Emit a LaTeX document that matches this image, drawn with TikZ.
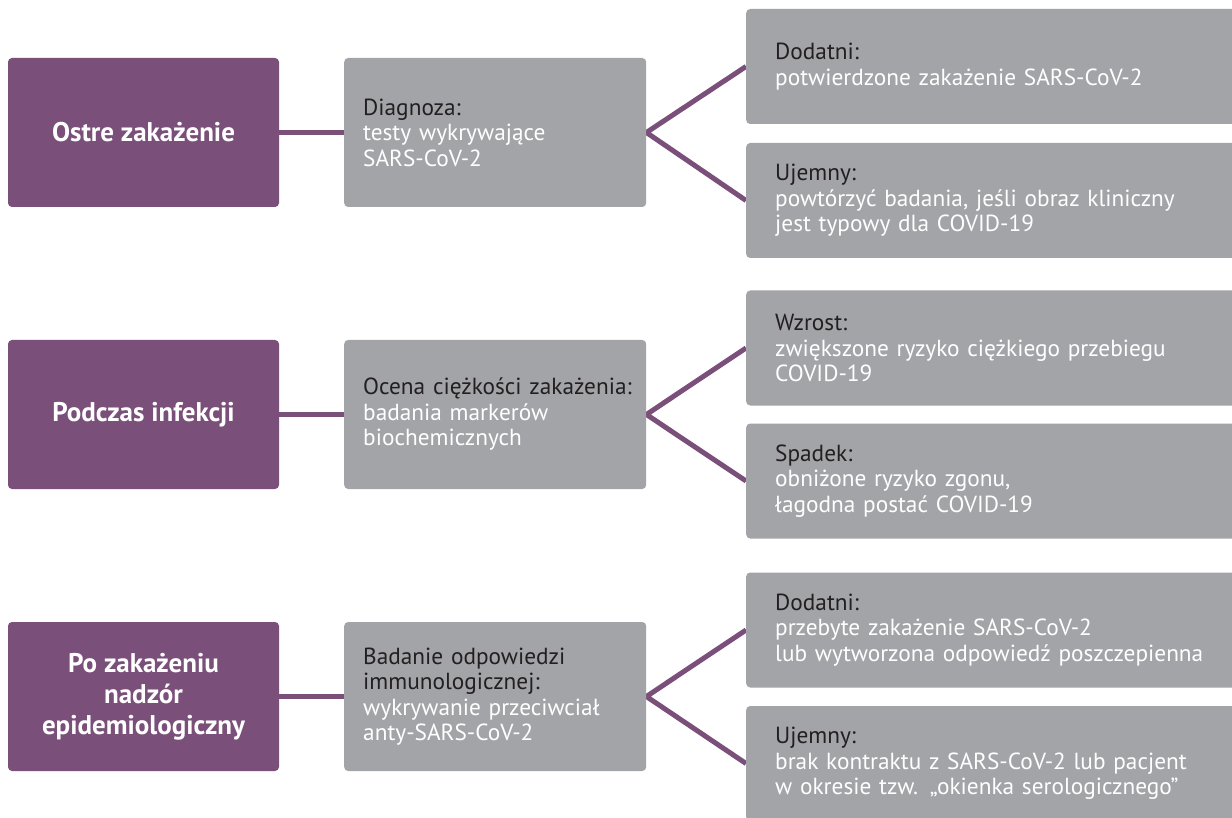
\documentclass[tikz,border=0pt]{standalone}
\usepackage{fontspec}
\setmainfont{PT Sans}
\usetikzlibrary{backgrounds}
\definecolor{purp}{HTML}{7A4F7A}
\definecolor{greyb}{HTML}{A3A4A8}
\definecolor{darktxt}{HTML}{231F20}
\tikzset{
  phase/.style={draw=none, fill=purp, rounded corners=4pt, minimum width=271pt, minimum height=149pt,
    text=white, align=center, font=\bfseries\fontsize{27}{31}\selectfont, inner sep=0pt},
  midbox/.style={draw=none, fill=greyb, rounded corners=4pt, minimum height=149pt, text width=264pt,
    inner xsep=19pt, inner ysep=0pt, align=left, text=white, font=\fontsize{23.3}{25.5}\selectfont},
  resbox/.style={draw=none, fill=greyb, rounded corners=4pt, minimum height=115pt, text width=480pt,
    inner xsep=29pt, inner ysep=0pt, align=left, text=white, font=\fontsize{23.3}{25.5}\selectfont},
  conn/.style={draw=purp, line width=5pt},
}
\newcommand{\hd}[1]{\textcolor{darktxt}{#1}}
\begin{document}
\begin{tikzpicture}[x=1pt,y=-1pt]
\useasboundingbox (0,0) rectangle (1232,818);
% row 1
\node[phase] (p1) at (143.5,132.5) {Ostre zakażenie};
\node[midbox, anchor=west] (m1) at (344,132.5) {\hd{Diagnoza:}\\testy wykrywające\\SARS-CoV-2};
\node[resbox, anchor=west] (r1a) at (746,66.5) {\hd{Dodatni:}\\potwierdzone zakażenie SARS-CoV-2};
\node[resbox, anchor=west] (r1b) at (746,200.5) {\hd{Ujemny:}\\powtórzyć badania, jeśli obraz kliniczny\\jest typowy dla COVID-19};
% row 2
\node[phase] (p2) at (143.5,414.5) {Podczas infekcji};
\node[midbox, anchor=west] (m2) at (344,414.5) {\hd{\mbox{Ocena ciężkości zakażenia:}}\\badania markerów\\biochemicznych};
\node[resbox, anchor=west] (r2a) at (746,348) {\hd{Wzrost:}\\zwiększone ryzyko ciężkiego przebiegu\\COVID-19};
\node[resbox, anchor=west] (r2b) at (746,481) {\hd{Spadek:}\\obniżone ryzyko zgonu,\\łagodna postać COVID-19};
% row 3
\node[phase] (p3) at (143.5,696.5) {Po zakażeniu\\nadzór\\epidemiologiczny};
\node[midbox, anchor=west] (m3) at (344,696.5) {\hd{Badanie odpowiedzi}\\\hd{immunologicznej:}\\wykrywanie przeciwciał\\anty-SARS-CoV-2};
\node[resbox, anchor=west] (r3a) at (746,630) {\hd{Dodatni:}\\przebyte zakażenie SARS-CoV-2\\lub wytworzona odpowiedź poszczepienna};
\node[resbox, anchor=west] (r3b) at (746,763.5) {\hd{Ujemny:}\\brak kontraktu z SARS-CoV-2 lub pacjent\\w okresie tzw. „okienka serologicznego”};
\begin{scope}[on background layer]
\fill[white] (0,0) rectangle (1232,818);
\foreach \i in {1,2,3}{
  \draw[conn] (p\i.east) -- (m\i.west);
  \draw[conn] (r\i a.west) -- (m\i.east) -- (r\i b.west);
}
\end{scope}
\end{tikzpicture}
\end{document}
